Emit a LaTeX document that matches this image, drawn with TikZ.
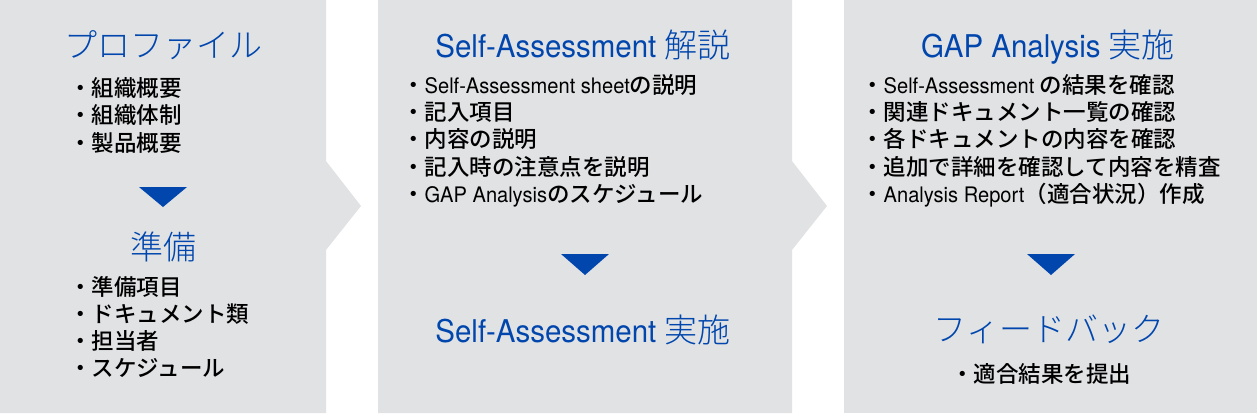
\documentclass[tikz,border=0pt]{standalone}
\usepackage{fontspec}
\setmainfont{TeX Gyre Heros}[Scale=0.95,FakeStretch=0.94]
\newfontfamily\jpfont{Noto Sans CJK JP Light}
\newfontfamily\jpmedium{Noto Sans CJK JP Medium}
\usepackage{tikz}
\definecolor{panelgray}{HTML}{E1E2E4}
\definecolor{stepblue}{HTML}{0046AD}
\newcommand{\jt}[1]{{\jpfont #1}}
\newcommand{\jb}[1]{{\jpmedium #1}}
\tikzset{
	panel/.style = {fill=panelgray, draw=none},
	heading/.style = {anchor=base, inner sep=0, text=stepblue, font=\fontsize{33}{33}\selectfont},
	item/.style = {anchor=base west, inner sep=0, text=black, font=\fontsize{22.5}{27}\selectfont},
	down/.style = {fill=stepblue, draw=none}
}

\begin{document}
\begin{tikzpicture}[x=1pt, y=-1pt]
	\useasboundingbox (0,0) rectangle (1257,413);

	% panels
	\path[panel] (0,0) -- (326,0) -- (326,161) -- (361,206) -- (326,250) -- (326,413) -- (0,413) -- cycle;
	\path[panel] (378,0) -- (792,0) -- (792,161) -- (827,206) -- (792,250) -- (792,413) -- (378,413) -- cycle;
	\path[panel] (844,0) rectangle (1257,413);

	% step 1
	\node[heading] (prof) at (163,57) {\jt{プロファイル}};
	\node[item] (prof1) at (69,96) {\jb{・組織概要}};
	\node[item] (prof2) at (69,123.5) {\jb{・組織体制}};
	\node[item] (prof3) at (69,151) {\jb{・製品概要}};
	\path[down] (139,187) -- (187,187) -- (163,207) -- cycle;
	\node[heading] (prep) at (163,259) {\jt{準備}};
	\node[item] (prep1) at (69,295) {\jb{・準備項目}};
	\node[item] (prep2) at (69,322.3) {\jb{・ドキュメント類}};
	\node[item] (prep3) at (69,349.6) {\jb{・担当者}};
	\node[item] (prep4) at (69,376.9) {\jb{・スケジュール}};

	% step 2
	\node[heading] (expl) at (583,57) {Self-Assessment \jt{解説}};
	\node[item] (expl1) at (402,93) {\jb{・}Self-Assessment sheet\jb{の説明}};
	\node[item] (expl2) at (402,120.4) {\jb{・記入項目}};
	\node[item] (expl3) at (402,147.8) {\jb{・内容の説明}};
	\node[item] (expl4) at (402,175.2) {\jb{・記入時の注意点を説明}};
	\node[item] (expl5) at (402,202.6) {\jb{・}GAP Analysis\jb{のスケジュール}};
	\path[down] (561,254) -- (609,254) -- (585,275) -- cycle;
	\node[heading] (self) at (583,342) {Self-Assessment \jt{実施}};

	% step 3
	\node[heading] (gap) at (1048,57) {GAP Analysis \jt{実施}};
	\node[item] (gap1) at (861,93) {\jb{・}Self-Assessment \jb{の結果を確認}};
	\node[item] (gap2) at (861,120.4) {\jb{・関連ドキュメント一覧の確認}};
	\node[item] (gap3) at (861,147.8) {\jb{・各ドキュメントの内容を確認}};
	\node[item] (gap4) at (861,175.2) {\jb{・追加で詳細を確認して内容を精査}};
	\node[item] (gap5) at (861,202.6) {\jb{・}Analysis Report\jb{（適合状況）作成}};
	\path[down] (1027,254) -- (1075,254) -- (1051,275) -- cycle;
	\node[heading] (feed) at (1049,341) {\jt{フィードバック}};
	\node[item] (feed1) at (951,382) {\jb{・適合結果を提出}};
\end{tikzpicture}
\end{document}
